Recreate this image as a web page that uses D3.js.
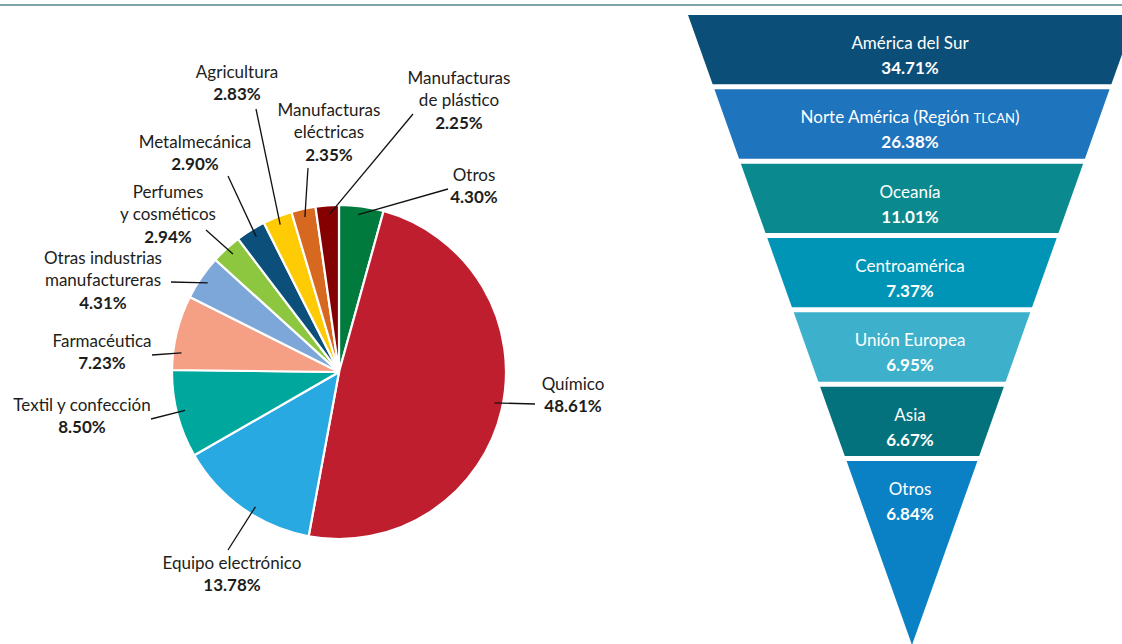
<!DOCTYPE html>
<html>
<head>
<meta charset="utf-8">
<script src="https://cdn.jsdelivr.net/npm/d3@7"></script>
<style>
  html, body { margin: 0; padding: 0; background: #ffffff; }
  svg { display: block; }
  text { font-family: Lato, "Open Sans", sans-serif; }
</style>
</head>
<body>
<svg id="chart" width="1122" height="644"></svg>
<script>
// Exportaciones por sector (%), en orden horario desde las 12
const sectors = [
  "Otros", "Químico", "Equipo electrónico", "Textil y confección", "Farmacéutica",
  "Otras industrias manufactureras", "Perfumes y cosméticos", "Metalmecánica",
  "Agricultura", "Manufacturas eléctricas", "Manufacturas de plástico"
];
const sectorShares = [4.30, 48.61, 13.78, 8.50, 7.23, 4.31, 2.94, 2.90, 2.83, 2.35, 2.25];
const sectorLabelLines = [
  ["Otros"], ["Químico"], ["Equipo electrónico"], ["Textil y confección"], ["Farmacéutica"],
  ["Otras industrias", "manufactureras"], ["Perfumes", "y cosméticos"], ["Metalmecánica"],
  ["Agricultura"], ["Manufacturas", "eléctricas"], ["Manufacturas", "de plástico"]
];
const sectorColors = [
  "#007a3d", "#be1e2d", "#29a9e1", "#00a79d", "#f5a085",
  "#7da7d9", "#8dc63f", "#0b4f7a", "#ffcb05", "#d6691f", "#850000"
];

// Exportaciones por destino (%), de arriba abajo
const regions = [
  "América del Sur", "Norte América (Región TLCAN)", "Oceanía", "Centroamérica",
  "Unión Europea", "Asia", "Otros"
];
const regionShares = [34.71, 26.38, 11.01, 7.37, 6.95, 6.67, 6.84];
const regionColors = ["#0b4f79", "#1f75bd", "#0a8a8f", "#0095b6", "#3db1cb", "#04727d", "#0a81c5"];

// Label layout for the pie: centre of text block, first-line centre y,
// outer end of the leader, and where inside the slice the leader ends (t: 0..1 across the slice)
const pieLabelLayout = [
  { x: 474, y: 175, lx: 448, ly: 189, t: 0.45 },
  { x: 573, y: 384, lx: 535, ly: 404, t: 0.49 },
  { x: 232, y: 563, lx: 228, ly: 550, t: 0.43 },
  { x: 82,  y: 405, lx: 151, ly: 419, t: 0.52 },
  { x: 102, y: 341, lx: 152, ly: 355, t: 0.24 },
  { x: 103, y: 258, lx: 171, ly: 282, t: 0.48 },
  { x: 168, y: 192, lx: 206, ly: 230, t: 0.55 },
  { x: 195, y: 142, lx: 228, ly: 176, t: 0.55 },
  { x: 237, y: 72,  lx: 256, ly: 109, t: 0.49 },
  { x: 329, y: 110, lx: 308, ly: 168, t: 0.49 },
  { x: 459, y: 78,  lx: 413, ly: 114, t: 0.6 }
];

const svg = d3.select("#chart");
const ink = "#1d1d1b";
const fmt = v => d3.format(".2f")(v) + "%";
const fs = 17;

// Rule across the top
svg.append("rect").attr("x", 0).attr("y", 4).attr("width", 1122).attr("height", 2).attr("fill", "#7fa4a4");

// ---------- Pie ----------
const cx = 339, cy = 372, R = 167;
const pie = d3.pie().sort(null).value(d => d.v).startAngle(0).endAngle(2 * Math.PI);
const arcs = pie(sectors.map((s, i) => ({ s, v: sectorShares[i], i })));
const arc = d3.arc().innerRadius(0).outerRadius(R);

const gPie = svg.append("g").attr("transform", `translate(${cx},${cy})`);
gPie.selectAll("path.slice")
  .data(arcs)
  .join("path")
  .attr("class", "slice")
  .attr("d", arc)
  .attr("fill", d => sectorColors[d.data.i])
  .attr("stroke", "#ffffff")
  .attr("stroke-width", 2.2)
  .attr("stroke-linejoin", "round");

// Leaders
const lead = arcs.map((d, i) => {
  const L = pieLabelLayout[i];
  const a = d.startAngle + (d.endAngle - d.startAngle) * L.t;
  const k = R * 0.95;
  return { x1: cx + k * Math.sin(a), y1: cy - k * Math.cos(a), x2: L.lx, y2: L.ly };
});
svg.append("g").selectAll("line")
  .data(lead)
  .join("line")
  .attr("x1", d => d.x1).attr("y1", d => d.y1)
  .attr("x2", d => d.x2).attr("y2", d => d.y2)
  .attr("stroke", "#111").attr("stroke-width", 1.3);

// Labels
const lineH = 22.5;
const gLab = svg.append("g");
arcs.forEach((d, i) => {
  const L = pieLabelLayout[i];
  const t = gLab.append("text")
    .attr("text-anchor", "middle")
    .attr("font-size", fs)
    .attr("fill", ink);
  const lines = sectorLabelLines[i];
  lines.forEach((ln, j) => {
    t.append("tspan").attr("x", L.x).attr("y", L.y + j * lineH).attr("dy", "0.35em").text(ln);
  });
  t.append("tspan").attr("x", L.x).attr("y", L.y + lines.length * lineH).attr("dy", "0.35em")
    .attr("font-weight", 700).text(fmt(d.data.v));
});

// ---------- Funnel ----------
const fx = 912;
const yTop = 15, apexY = 645;
const step = 74.33, gap = 5;
const yBand = d3.scaleBand()
  .domain(regions)
  .range([yTop, yTop + step * (regions.length - gap / step)])
  .paddingInner(gap / step)
  .paddingOuter(0);
const halfW = d3.scaleLinear().domain([yTop, apexY]).range([224, 0]);

const segs = regions.map((r, i) => {
  const top = yBand(r);
  const bot = i === regions.length - 1 ? apexY : top + yBand.bandwidth();
  return { r, i, top, bot, v: regionShares[i] };
});

const gF = svg.append("g");
gF.selectAll("path")
  .data(segs)
  .join("path")
  .attr("d", d => {
    const wt = halfW(d.top), wb = halfW(d.bot);
    return `M${fx - wt},${d.top}L${fx + wt},${d.top}L${fx + wb},${d.bot}L${fx - wb},${d.bot}Z`;
  })
  .attr("fill", d => regionColors[d.i]);

segs.forEach(d => {
  const name = gF.append("text")
    .attr("x", fx - 2).attr("y", d.top + 28).attr("dy", "0.35em")
    .attr("text-anchor", "middle").attr("font-size", fs).attr("fill", "#ffffff");
  const m = d.r.match(/^(.*)TLCAN\)$/);
  if (m) {
    name.append("tspan").text(m[1]);
    name.append("tspan").attr("font-size", 13).text("TLCAN");
    name.append("tspan").text(")");
  } else {
    name.text(d.r);
  }
  gF.append("text")
    .attr("x", fx - 2).attr("y", d.top + 53).attr("dy", "0.35em")
    .attr("text-anchor", "middle").attr("font-size", fs).attr("font-weight", 700)
    .attr("fill", "#ffffff").text(fmt(d.v));
});
</script>
</body>
</html>
